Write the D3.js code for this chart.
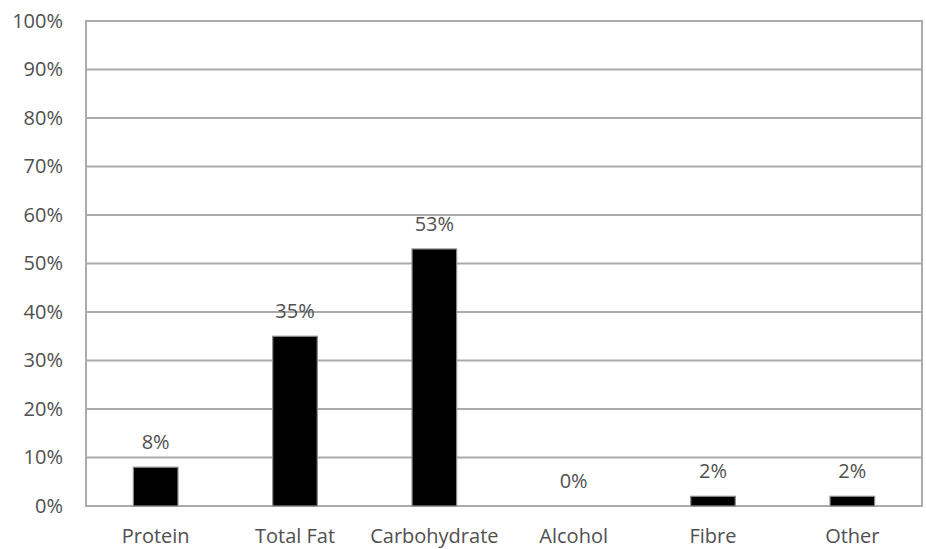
<!DOCTYPE html>
<html>
<head>
<meta charset="utf-8">
<script src="https://cdn.jsdelivr.net/npm/d3@7"></script>
<style>
  html, body { margin: 0; padding: 0; background: #fff; }
  svg text { font-family: "Open Sans", sans-serif; fill: #505050; }
</style>
</head>
<body>
<svg id="chart" width="926" height="549"></svg>
<script>
// Share of energy by nutrient
const categories = ["Protein", "Total Fat", "Carbohydrate", "Alcohol", "Fibre", "Other"];
const values = [8, 35, 53, 0, 2, 2];
const tickValues = [0, 10, 20, 30, 40, 50, 60, 70, 80, 90, 100];

const svg = d3.select("#chart");
const margin = { left: 86, right: 4, top: 21, bottom: 43 };
const W = 926, H = 549;
const plotW = W - margin.left - margin.right;
const plotH = H - margin.top - margin.bottom;
const fontSize = 20;
const textColor = "#505050";

const x = d3.scaleBand().domain(categories).range([margin.left, margin.left + plotW]).paddingInner(0.68).paddingOuter(0.34);
const y = d3.scaleLinear().domain([0, 100]).range([margin.top + plotH, margin.top]);

const gridColor = "#ababab";

// horizontal gridlines
svg.append("g").selectAll("line").data(tickValues).join("line")
  .attr("x1", margin.left).attr("x2", margin.left + plotW)
  .attr("y1", d => y(d)).attr("y2", d => y(d))
  .attr("stroke", gridColor).attr("stroke-width", 2);

// plot frame
svg.append("rect")
  .attr("x", margin.left).attr("y", margin.top)
  .attr("width", plotW).attr("height", plotH)
  .attr("fill", "none").attr("stroke", gridColor).attr("stroke-width", 2);

// y tick labels
const yAxis = d3.axisLeft(y).tickValues(tickValues).tickFormat(d => d + "%").tickSize(0).tickPadding(23);
const ya = svg.append("g").attr("transform", `translate(${margin.left},0)`).call(yAxis);
ya.select(".domain").remove();
ya.selectAll("text").attr("font-size", fontSize).attr("font-family", "Open Sans, sans-serif").attr("fill", textColor);

// x category labels
const xAxis = d3.axisBottom(x).tickSize(0).tickPadding(23);
const xa = svg.append("g").attr("transform", `translate(0,${margin.top + plotH})`).call(xAxis);
xa.select(".domain").remove();
xa.selectAll("text").attr("font-size", fontSize).attr("font-family", "Open Sans, sans-serif").attr("fill", textColor);

// bars
svg.append("g").selectAll("rect").data(values).join("rect")
  .attr("x", (d, i) => x(categories[i]))
  .attr("width", x.bandwidth())
  .attr("y", d => y(d))
  .attr("height", d => y(0) - y(d))
  .attr("fill", "#000")
  .attr("stroke", "#8c8c8c").attr("stroke-width", 1.2)
  .attr("display", d => d > 0 ? null : "none");

// value labels
svg.append("g").selectAll("text").data(values).join("text")
  .attr("x", (d, i) => x(categories[i]) + x.bandwidth() / 2)
  .attr("y", d => y(d) - 25)
  .attr("dy", "0.35em")
  .attr("text-anchor", "middle")
  .attr("font-size", fontSize)
  .text(d => d + "%");
</script>
</body>
</html>
